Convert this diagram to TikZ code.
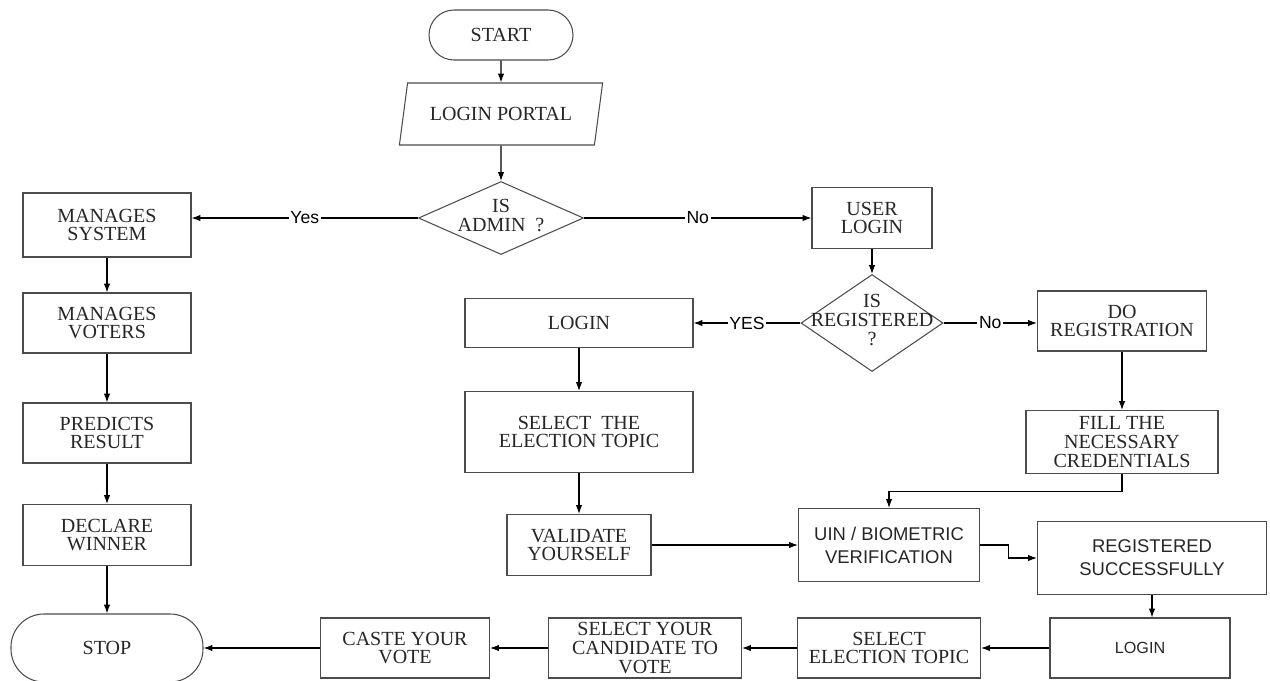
\documentclass[tikz,border=0pt]{standalone}
\usepackage{fontspec}
\setmainfont{Liberation Serif}
\newfontfamily\sansfont{Liberation Sans}
\usetikzlibrary{shapes.geometric, arrows.meta}

\newcommand{\dtext}[1]{\makebox[0pt]{\begin{tabular}{@{}c@{}}#1\end{tabular}}}

\begin{document}
\begin{tikzpicture}[> = {Latex[length = 5pt, width = 3.6pt]}, x = 0.02cm, y = -0.02cm, line width = 0.6pt, font = \fontsize{11.4}{10.6}\selectfont]

	% Definitions
	
	\def\px{0.02cm}		% one pixel of the layout
	
	\tikzset{
		proc/.style 2 args = {draw = black!70, align = center, text = black!85, inner sep = 1pt, minimum width = #1*\px, minimum height = #2*\px},
		terminal/.style = {draw = black!70, text = black!85, rounded corners = 0.5cm},
		portal/.style = {trapezium, trapezium left angle = 75, trapezium right angle = 105, trapezium stretches = true, draw = black!70, text = black!85, minimum width = 205*\px, minimum height = 62*\px},
		decision/.style = {diamond, draw = black!70, text = black!85, inner sep = 0pt, aspect = 2},
		sans/.style = {font = \sansfont\fontsize{#1}{13}\selectfont},
		sans/.default = 10.5,
		lbl/.style = {fill = white, inner sep = 1pt, font = \sansfont\fontsize{10}{12}\selectfont}
	}
	
	\useasboundingbox (0, 0) rectangle (1270, 680);
	
	% Admin side
	
	\node [terminal, minimum width = 144*\px, minimum height = 50*\px] (start) at (501, 35) {START};
	\node [portal] (portal) at (501, 114) {LOGIN PORTAL};
	\node [decision, minimum width = 165*\px, minimum height = 73*\px] (admin) at (501, 218) {\dtext{IS\\ADMIN\ \ ?}};
	
	\node [proc = {168}{64}] (sys) at (107, 225) {MANAGES\\SYSTEM};
	\node [proc = {168}{60}] (voters) at (107, 323) {MANAGES\\VOTERS};
	\node [proc = {168}{60}] (predict) at (107, 433) {PREDICTS\\RESULT};
	\node [proc = {168}{61}] (winner) at (107, 535) {DECLARE\\WINNER};
	\node [terminal, minimum width = 192*\px, minimum height = 68*\px, rounded corners = 0.66cm] (stop) at (107, 648) {STOP};
	
	% User side
	
	\node [proc = {120}{61}] (user) at (872, 218) {USER\\LOGIN};
	\node [decision, minimum width = 142*\px, minimum height = 97*\px] (reg) at (872, 323) {\dtext{IS\\REGISTERED\\?}};
	
	\node [proc = {228}{49}] (login) at (579, 323) {LOGIN};
	\node [proc = {228}{81}] (topic) at (579, 432) {SELECT\ \ THE\\ELECTION TOPIC};
	\node [proc = {144}{61}] (validate) at (579, 545) {VALIDATE\\YOURSELF};
	
	\node [proc = {169}{60}] (doreg) at (1122, 321) {DO\\REGISTRATION};
	\node [proc = {192}{63}] (fill) at (1122, 442) {FILL THE\\NECESSARY\\CREDENTIALS};
	\node [proc = {181}{73}, sans] (uin) at (889, 545) {UIN / BIOMETRIC\\VERIFICATION};
	\node [proc = {229}{73}, sans] (done) at (1152, 558) {REGISTERED\\SUCCESSFULLY};
	
	% Bottom row
	
	\node [proc = {180}{60}, sans = 9.2] (relogin) at (1140, 648) {LOGIN};
	\node [proc = {183}{60}] (seltopic) at (889, 648) {SELECT\\ELECTION TOPIC};
	\node [proc = {193}{60}] (cand) at (645, 648) {SELECT YOUR\\CANDIDATE TO\\VOTE};
	\node [proc = {169}{60}] (caste) at (405, 648) {CASTE YOUR\\VOTE};
	
	% Draw arrows
	
	\foreach \a/\b in {start/portal, portal/admin, sys/voters, voters/predict, predict/winner, winner/stop, user/reg, login/topic, topic/validate, doreg/fill, validate/uin, relogin/seltopic, seltopic/cand, cand/caste, caste/stop}
		\draw [->] (\a) -- (\b);
	
	\draw [->] (admin.west) -- node [lbl] {Yes} (admin.west -| sys.east);
	\draw [->] (admin.east) -- node [lbl] {No} (admin.east -| user.west);
	\draw [->] (reg.west) -- node [lbl] {YES} (reg.west -| login.east);
	\draw [->] (reg.east) -- node [lbl] {No} (reg.east -| doreg.west);
	
	\draw [->] (fill.south) -- ++(0, 17) -| (uin.north);
	\draw [->] (uin.east) -- ++(28, 0) |- (done.west);
	\draw [->] (done.south) -- (done.south |- relogin.north);
	
\end{tikzpicture}
\end{document}
